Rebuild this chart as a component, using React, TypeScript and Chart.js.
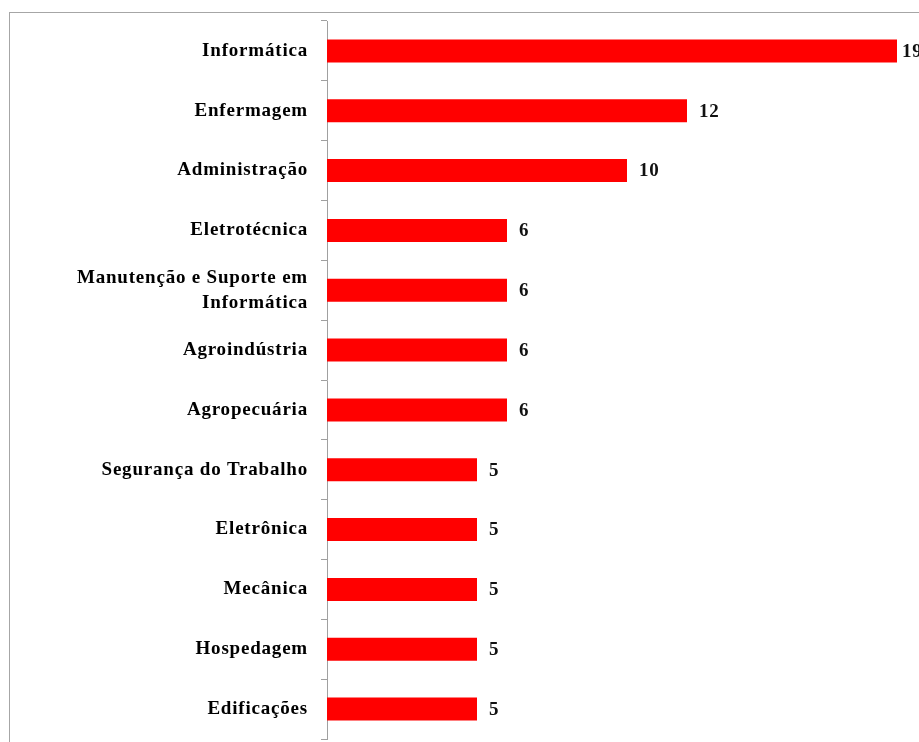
import React, { useEffect, useRef } from "react";
import { Chart, registerables } from "chart.js";

Chart.register(...registerables);

const categories: (string | string[])[] = [
  "Informática",
  "Enfermagem",
  "Administração",
  "Eletrotécnica",
  ["Manutenção e Suporte em", "Informática"],
  "Agroindústria",
  "Agropecuária",
  "Segurança do Trabalho",
  "Eletrônica",
  "Mecânica",
  "Hospedagem",
  "Edificações",
];

const values: number[] = [19, 12, 10, 6, 6, 6, 6, 5, 5, 5, 5, 5];

const FONT_FAMILY = '"Liberation Serif", "Times New Roman", Times, serif';
const SPACING = "0.8px";

const spacingPlugin = {
  id: "spacing",
  beforeDraw(chart: any) {
    chart.ctx.letterSpacing = SPACING;
  },
};

const valueLabels = {
  id: "valueLabels",
  afterDatasetsDraw(chart: any) {
    const ctx = chart.ctx;
    const meta = chart.getDatasetMeta(0);
    ctx.save();
    ctx.letterSpacing = SPACING;
    ctx.font = `bold 19px ${FONT_FAMILY}`;
    ctx.fillStyle = "#111";
    ctx.textAlign = "left";
    ctx.textBaseline = "middle";
    // labels are kept inside the visible area (pulled in when they would overflow)
    const maxX = chart.chartArea.right - 25;
    meta.data.forEach((el: any, i: number) => {
      const x = Math.min(el.x + 12, maxX);
      ctx.fillText(String(values[i]), x, el.y + 1);
    });
    ctx.restore();
  },
};

export default function App() {
  const ref = useRef<HTMLCanvasElement | null>(null);

  useEffect(() => {
    if (!ref.current) return;
    const chart = new Chart(ref.current, {
      type: "bar",
      data: {
        labels: categories,
        datasets: [
          {
            data: values,
            backgroundColor: "#ff0000",
            borderWidth: 0,
            barPercentage: 0.385,
            categoryPercentage: 1,
          },
        ],
      },
      options: {
        indexAxis: "y",
        responsive: false,
        animation: false,
        devicePixelRatio: 1,
        layout: { padding: { left: 0, right: 81, top: 13, bottom: 69 } },
        plugins: {
          legend: { display: false },
          tooltip: { enabled: false },
          title: { display: false },
        },
        scales: {
          x: {
            display: false,
            min: 0,
            max: 20,
          },
          y: {
            afterFit(scale: any) {
              scale.width = 319;
              scale.paddingTop = 0;
              scale.paddingBottom = 0;
            },
            grid: {
              drawOnChartArea: false,
              drawTicks: true,
              tickLength: 6,
              color: "#a0a0a0",
              offset: true,
            },
            border: { display: true, color: "#a0a0a0", width: 1 },
            ticks: {
              color: "#000",
              padding: 13,
              font: { family: FONT_FAMILY, size: 19, weight: "bold", lineHeight: 1.3 },
            },
          },
        },
      } as any,
      plugins: [spacingPlugin, valueLabels],
    });
    return () => chart.destroy();
  }, []);

  return (
    <div
      style={{
        position: "fixed",
        left: 0,
        top: 0,
        width: 919,
        height: 742,
        overflow: "hidden",
        background: "#fff",
      }}
    >
      <div
        style={{
          position: "absolute",
          left: 9,
          top: 12,
          width: 1200,
          height: 1200,
          border: "1px solid #a6a6a6",
        }}
      />
      <canvas
        ref={ref}
        width={1000}
        height={800}
        style={{ position: "absolute", left: 8, top: 8, width: 1000, height: 800 }}
      />
    </div>
  );
}
